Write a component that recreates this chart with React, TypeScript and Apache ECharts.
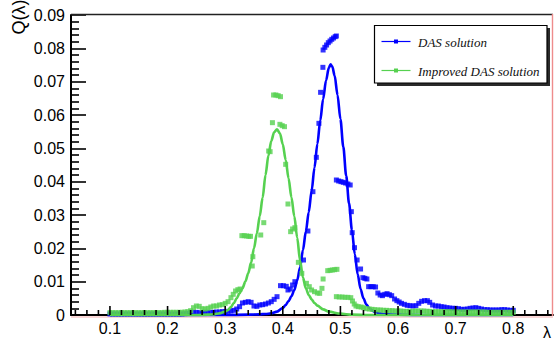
import React, { useEffect, useRef } from "react";
import * as echarts from "echarts";

const X_MIN = 0.0324;
const X_MAX = 0.869;
const Y_MIN = 0;
const Y_MAX = 0.09;

const X_TICKS = [0.1, 0.2, 0.3, 0.4, 0.5, 0.6, 0.7, 0.8];
const MINOR_DIVISIONS = 5;

const SERIES_NAMES = ["DAS solution", "Improved DAS solution"];

// DAS solution: data points
const dasPoints: [number, number][] = [
  [0.1, 0.0003], [0.105, 0.0003], [0.11, 0.0003], [0.115, 0.0003], [0.12, 0.0003], [0.125, 0.0003],
  [0.13, 0.0003], [0.135, 0.0003], [0.14, 0.0003], [0.145, 0.0003], [0.15, 0.0003], [0.155, 0.0003],
  [0.16, 0.0003], [0.165, 0.0003], [0.17, 0.0003], [0.175, 0.0003], [0.18, 0.0003], [0.185, 0.0003],
  [0.19, 0.0003], [0.195, 0.0003], [0.2, 0.0003], [0.205, 0.0003], [0.21, 0.0003], [0.215, 0.0003],
  [0.22, 0.0003], [0.225, 0.0003], [0.23, 0.0004], [0.235, 0.0005], [0.24, 0.0007], [0.245, 0.0008],
  [0.25, 0.0008], [0.255, 0.0007], [0.26, 0.0007], [0.265, 0.0008], [0.27, 0.0008], [0.275, 0.0008],
  [0.28, 0.0008], [0.285, 0.0009], [0.29, 0.0009], [0.295, 0.0010], [0.3, 0.0010], [0.305, 0.0011],
  [0.31, 0.0012], [0.315, 0.0014], [0.32, 0.0018], [0.325, 0.0025],
  [0.33, 0.0036], [0.335, 0.0038], [0.34, 0.0040], [0.345, 0.0038], [0.35, 0.0027], [0.355, 0.0026],
  [0.36, 0.0030], [0.365, 0.0031], [0.37, 0.0033], [0.375, 0.0036], [0.38, 0.0040], [0.385, 0.0047],
  [0.39, 0.0055], [0.396, 0.0088], [0.401, 0.0088], [0.406, 0.0086], [0.409, 0.0075], [0.413, 0.0078],
  [0.417, 0.0090], [0.421, 0.0100],
  [0.436, 0.0165], [0.4436, 0.0252], [0.4523, 0.037], [0.4582, 0.0473], [0.4627, 0.0575],
  [0.4656, 0.0668], [0.4696, 0.0743],
  [0.470, 0.0795], [0.473, 0.0803], [0.476, 0.0810], [0.479, 0.0817], [0.482, 0.0822],
  [0.485, 0.0827], [0.488, 0.0831], [0.491, 0.0835], [0.493, 0.0837],
  [0.493, 0.0405], [0.497, 0.0402], [0.501, 0.0400], [0.505, 0.0398], [0.509, 0.0396],
  [0.513, 0.0393], [0.517, 0.0390],
  [0.519, 0.031], [0.5205, 0.0247], [0.5245, 0.0202], [0.529, 0.0165], [0.535, 0.0138],
  [0.539, 0.0112], [0.5425, 0.0110], [0.546, 0.0108],
  [0.549, 0.0085], [0.553, 0.0085], [0.557, 0.0085], [0.561, 0.0084],
  [0.565, 0.0066], [0.569, 0.0060], [0.573, 0.0058], [0.577, 0.0062], [0.581, 0.0064],
  [0.585, 0.0061], [0.589, 0.0058],
  [0.594, 0.0048], [0.598, 0.0043], [0.602, 0.0039], [0.606, 0.0035], [0.611, 0.0032],
  [0.616, 0.0029], [0.621, 0.0028], [0.626, 0.0027], [0.631, 0.0028], [0.636, 0.0035],
  [0.641, 0.0041], [0.646, 0.0043], [0.651, 0.0043], [0.655, 0.0038], [0.66, 0.0030],
  [0.665, 0.0027], [0.67, 0.0027], [0.675, 0.0025], [0.68, 0.0024], [0.685, 0.0022],
  [0.69, 0.0021], [0.695, 0.0020], [0.7, 0.0020], [0.705, 0.0019], [0.71, 0.0017],
  [0.715, 0.0017], [0.72, 0.0018], [0.725, 0.0020], [0.73, 0.0021], [0.735, 0.0022],
  [0.74, 0.0020], [0.745, 0.0018], [0.75, 0.0016], [0.755, 0.0016], [0.76, 0.0015],
  [0.765, 0.0015], [0.77, 0.0015], [0.775, 0.0015], [0.78, 0.0016], [0.785, 0.0016],
  [0.79, 0.0015], [0.795, 0.0014], [0.8, 0.0014],
];

// DAS solution: fitted curve
const dasFit: [number, number][] = [
  [0.1, 0], [0.3, 0], [0.34, 0.0001], [0.36, 0.0002], [0.37, 0.0003], [0.38, 0.0005],
  [0.39, 0.0010], [0.4, 0.0021], [0.405, 0.0030], [0.41, 0.0042], [0.415, 0.0056],
  [0.42, 0.0075], [0.425, 0.0104], [0.43, 0.0143], [0.435, 0.0195], [0.44, 0.025],
  [0.445, 0.0308], [0.45, 0.0372], [0.455, 0.0442], [0.46, 0.0513], [0.465, 0.0583],
  [0.47, 0.0648], [0.475, 0.0703], [0.48, 0.0742], [0.483, 0.0752], [0.486, 0.0745],
  [0.49, 0.0718], [0.495, 0.066], [0.5, 0.0588], [0.505, 0.0505], [0.51, 0.0418],
  [0.515, 0.0335], [0.52, 0.0255], [0.525, 0.0182], [0.53, 0.0122], [0.535, 0.0078],
  [0.54, 0.005], [0.545, 0.0032], [0.55, 0.0021], [0.555, 0.0014], [0.56, 0.0009],
  [0.57, 0.0004], [0.58, 0.0002], [0.6, 0.0001], [0.65, 0], [0.8, 0],
];

// Improved DAS solution: data points
const improvedPoints: [number, number][] = [
  [0.1, 0.0007], [0.105, 0.0007], [0.11, 0.0007], [0.115, 0.0007], [0.12, 0.0007], [0.125, 0.0007],
  [0.13, 0.0007], [0.135, 0.0007], [0.14, 0.0007], [0.145, 0.0007], [0.15, 0.0007], [0.155, 0.0007],
  [0.16, 0.0007], [0.165, 0.0007], [0.17, 0.0007], [0.175, 0.0007], [0.18, 0.0007], [0.185, 0.0007],
  [0.19, 0.0007], [0.195, 0.0008], [0.2, 0.0008], [0.205, 0.0008], [0.21, 0.0008], [0.215, 0.0008],
  [0.22, 0.0008], [0.225, 0.0008], [0.23, 0.0009], [0.235, 0.0010],
  [0.24, 0.0013], [0.245, 0.0022], [0.25, 0.0027], [0.255, 0.0026], [0.26, 0.0019], [0.265, 0.0018],
  [0.27, 0.0020], [0.275, 0.0024], [0.28, 0.0027], [0.285, 0.0027], [0.29, 0.0030], [0.295, 0.0031],
  [0.3, 0.0035], [0.305, 0.0040], [0.31, 0.0052], [0.314, 0.0062], [0.318, 0.0072], [0.322, 0.0076],
  [0.326, 0.0078],
  [0.329, 0.0238], [0.333, 0.0238], [0.337, 0.0237], [0.341, 0.0236], [0.344, 0.0236],
  [0.347, 0.0147], [0.348, 0.0175],
  [0.3617, 0.024], [0.367, 0.0277], [0.3755, 0.0492], [0.378, 0.049], [0.382, 0.0577],
  [0.384, 0.066], [0.388, 0.066], [0.392, 0.0658], [0.396, 0.0655],
  [0.395, 0.0572], [0.399, 0.0568], [0.403, 0.0565],
  [0.405, 0.0452], [0.409, 0.0333], [0.4136, 0.025], [0.417, 0.0258], [0.421, 0.0262],
  [0.427, 0.0158], [0.433, 0.0125],
  [0.441, 0.0095], [0.446, 0.0085], [0.45, 0.0075], [0.455, 0.0070], [0.46, 0.0066],
  [0.464, 0.0065], [0.468, 0.0080], [0.47, 0.0108],
  [0.478, 0.0133], [0.482, 0.0134], [0.486, 0.0135], [0.49, 0.0136], [0.494, 0.0137],
  [0.493, 0.0055], [0.498, 0.0054], [0.503, 0.0054], [0.508, 0.0053], [0.513, 0.0053], [0.518, 0.0052],
  [0.521, 0.0042], [0.524, 0.0033], [0.527, 0.0027], [0.531, 0.0025], [0.536, 0.0024],
  [0.54, 0.0022], [0.545, 0.0019], [0.55, 0.0018], [0.555, 0.0017], [0.56, 0.0016],
  [0.565, 0.0015], [0.57, 0.0015], [0.575, 0.0014], [0.58, 0.0014], [0.585, 0.0013],
  [0.59, 0.0013], [0.595, 0.0012], [0.6, 0.0012], [0.605, 0.0012], [0.61, 0.0011],
  [0.615, 0.0011], [0.62, 0.0011], [0.625, 0.0011], [0.63, 0.0012], [0.635, 0.0012],
  [0.64, 0.0012], [0.645, 0.0012], [0.65, 0.0011], [0.655, 0.0011], [0.66, 0.0010],
  [0.665, 0.0010], [0.67, 0.0010], [0.675, 0.0010], [0.68, 0.0010], [0.685, 0.0010],
  [0.69, 0.0010], [0.695, 0.0009], [0.7, 0.0009], [0.705, 0.0009], [0.71, 0.0009],
  [0.715, 0.0009], [0.72, 0.0009], [0.725, 0.0009], [0.73, 0.0009], [0.735, 0.0009],
  [0.74, 0.0009], [0.745, 0.0009], [0.75, 0.0009], [0.755, 0.0008], [0.76, 0.0008],
  [0.765, 0.0008], [0.77, 0.0008], [0.775, 0.0008], [0.78, 0.0008], [0.785, 0.0008],
  [0.79, 0.0008], [0.795, 0.0008], [0.8, 0.0008],
];

// Improved DAS solution: fitted curve
const improvedFit: [number, number][] = [
  [0.1, 0], [0.25, 0], [0.27, 0.0001], [0.28, 0.0002], [0.29, 0.0005], [0.3, 0.001],
  [0.305, 0.0015], [0.31, 0.0024], [0.315, 0.0036], [0.32, 0.005], [0.325, 0.0065],
  [0.33, 0.008], [0.335, 0.01], [0.34, 0.0125], [0.345, 0.0157], [0.35, 0.02],
  [0.355, 0.0245], [0.36, 0.0297], [0.365, 0.0352], [0.37, 0.042], [0.375, 0.0478],
  [0.38, 0.0522], [0.385, 0.0548], [0.39, 0.0557], [0.395, 0.0545], [0.4, 0.0512],
  [0.405, 0.0465], [0.41, 0.041], [0.415, 0.0353], [0.42, 0.0296], [0.425, 0.0232],
  [0.43, 0.0163], [0.435, 0.0112], [0.44, 0.008], [0.445, 0.006], [0.45, 0.0047],
  [0.455, 0.0036], [0.46, 0.0028], [0.47, 0.0017], [0.48, 0.001], [0.5, 0.0004],
  [0.52, 0.0001], [0.55, 0], [0.8, 0],
];

const BLUE = "#0000ff";
const GREEN = "#56d150";
const SANS = "'Liberation Sans', Arial, Helvetica, sans-serif";
const SERIF = "'Liberation Serif', 'Times New Roman', serif";

export default function App() {
  const ref = useRef<HTMLDivElement>(null);

  useEffect(() => {
    if (!ref.current) return;
    const chart = echarts.init(ref.current, null, { renderer: "svg" });
    const option: any = {
      animation: false,
      backgroundColor: "#ffffff",
      grid: { left: 71, top: 15, width: 482, height: 300, containLabel: false },
      xAxis: {
        type: "value",
        min: X_MIN,
        max: X_MAX,
        position: "bottom",
        axisLine: { show: true, onZero: false, lineStyle: { color: "#000", width: 2 } },
        axisTick: { show: false },
        axisLabel: {
          show: true,
          customValues: X_TICKS,
          margin: 5,
          fontSize: 16,
          fontFamily: SANS,
          color: "#000",
          formatter: (v: number) => v.toFixed(1),
        },
        splitLine: { show: false },
      },
      yAxis: {
        type: "value",
        min: Y_MIN,
        max: Y_MAX,
        interval: 0.01,
        axisLine: { show: true, onZero: false, lineStyle: { color: "#000", width: 2 } },
        axisTick: { show: true, inside: true, length: 15, lineStyle: { color: "#000", width: 1.6 } },
        minorTick: { show: true, splitNumber: MINOR_DIVISIONS, length: 8, lineStyle: { color: "#000", width: 1.6 } },
        axisLabel: {
          margin: 6,
          fontSize: 16,
          fontFamily: SANS,
          color: "#000",
          formatter: (v: number) => (v === 0 ? "0" : v.toFixed(2)),
        },
        splitLine: { show: false },
        minorSplitLine: { show: false },
      },
      series: [
        {
          name: SERIES_NAMES[0],
          type: "scatter",
          data: dasPoints,
          symbol: "rect",
          symbolSize: 5,
          itemStyle: { color: BLUE },
          z: 2,
        },
        {
          name: SERIES_NAMES[0] + " fit",
          type: "line",
          data: dasFit,
          showSymbol: false,
          smooth: 0.3,
          smoothMonotone: "x",
          clip: false,
          lineStyle: { color: BLUE, width: 2.6 },
          z: 3,
        },
        {
          name: SERIES_NAMES[1],
          type: "scatter",
          data: improvedPoints,
          symbol: "rect",
          symbolSize: 5,
          itemStyle: { color: GREEN },
          z: 4,
        },
        {
          name: SERIES_NAMES[1] + " fit",
          type: "line",
          data: improvedFit,
          showSymbol: false,
          smooth: 0.3,
          smoothMonotone: "x",
          clip: false,
          lineStyle: { color: GREEN, width: 2.6 },
          z: 5,
        },
      ],
    };
    chart.setOption(option);

    // X ticks placed through the chart's own scale (labels are custom values)
    const toPx = (x: number, y: number) =>
      chart.convertToPixel({ xAxisIndex: 0, yAxisIndex: 0 }, [x, y]) as number[];
    const tickLine = (x1: number, y1: number, x2: number, y2: number) => ({
      type: "line",
      silent: true,
      shape: { x1, y1, x2, y2 },
      style: { stroke: "#000", lineWidth: 1.6 },
      z: 30,
    });
    const y0px = toPx(X_MIN, 0)[1];
    const xLeftPx = toPx(X_MIN, 0)[0];
    const yTopPx = toPx(X_MIN, Y_MAX)[1];
    const rightPx = toPx(X_MAX, 0)[0];
    const tickEls: any[] = [];
    const xStep = (X_TICKS[1] - X_TICKS[0]) / MINOR_DIVISIONS;
    const xMinorVals: number[] = [];
    for (let v = X_TICKS[0] - xStep; v > X_MIN; v -= xStep) xMinorVals.push(v);
    for (let i = 0; i < X_TICKS.length; i++) {
      for (let k = 1; k < MINOR_DIVISIONS; k++) xMinorVals.push(X_TICKS[i] + k * xStep);
    }
    X_TICKS.forEach((v) => {
      const p = toPx(v, 0);
      tickEls.push(tickLine(p[0], y0px, p[0], y0px - 9));
    });
    xMinorVals.forEach((v) => {
      if (v <= X_MIN || v >= X_MAX) return;
      const p = toPx(v, 0);
      tickEls.push(tickLine(p[0], y0px, p[0], y0px - 5));
    });

    chart.setOption({
      graphic: [
        // frame
        { type: "line", shape: { x1: xLeftPx, y1: yTopPx - 0.5, x2: rightPx, y2: yTopPx - 0.5 }, style: { stroke: "#222", lineWidth: 1.4 }, z: 10 },
        { type: "line", shape: { x1: rightPx - 0.5, y1: yTopPx - 1, x2: rightPx - 0.5, y2: y0px + 1 }, style: { stroke: "#ee8c8c", lineWidth: 1.4 }, z: 10 },
        { type: "line", shape: { x1: xLeftPx, y1: y0px + 2, x2: rightPx, y2: y0px + 2 }, style: { stroke: "#f4b0b0", lineWidth: 1 }, z: -1 },
        ...tickEls,
        // axis titles
        {
          type: "text",
          x: 19,
          y: 17,
          rotation: Math.PI / 2,
          style: { text: "Q(λ)", font: `18px ${SANS}`, fill: "#000", align: "center", verticalAlign: "middle" },
          z: 10,
        },
        {
          type: "text",
          x: 547,
          y: 332,
          style: { text: "λ", font: `16px ${SANS}`, fill: "#000", align: "center", verticalAlign: "middle" },
          z: 10,
        },
        // legend
        { type: "rect", shape: { x: 377, y: 28, width: 173, height: 58 }, style: { fill: "#2a2a2a" }, z: 20 },
        {
          type: "rect",
          shape: { x: 374.5, y: 25.5, width: 172.5, height: 57.5 },
          style: { fill: "#fff", stroke: "#000", lineWidth: 1.2 },
          z: 21,
        },
        { type: "line", shape: { x1: 381.5, y1: 41.5, x2: 410.5, y2: 41.5 }, style: { stroke: BLUE, lineWidth: 1.2 }, z: 22 },
        { type: "rect", shape: { x: 394, y: 39.5, width: 4, height: 4 }, style: { fill: BLUE }, z: 22 },
        {
          type: "text",
          x: 418,
          y: 42,
          style: { text: SERIES_NAMES[0], font: `italic 13px ${SERIF}`, fill: "#111", verticalAlign: "middle" },
          z: 22,
        },
        { type: "line", shape: { x1: 381.5, y1: 70.5, x2: 410.5, y2: 70.5 }, style: { stroke: GREEN, lineWidth: 1.2 }, z: 22 },
        { type: "rect", shape: { x: 394, y: 68.5, width: 4, height: 4 }, style: { fill: GREEN }, z: 22 },
        {
          type: "text",
          x: 418,
          y: 71,
          style: { text: SERIES_NAMES[1], font: `italic 13px ${SERIF}`, fill: "#111", verticalAlign: "middle" },
          z: 22,
        },
      ],
    });
    return () => chart.dispose();
  }, []);

  return (
    <div
      ref={ref}
      style={{ position: "fixed", left: 0, top: 0, width: 554, height: 343, background: "#fff" }}
    />
  );
}
